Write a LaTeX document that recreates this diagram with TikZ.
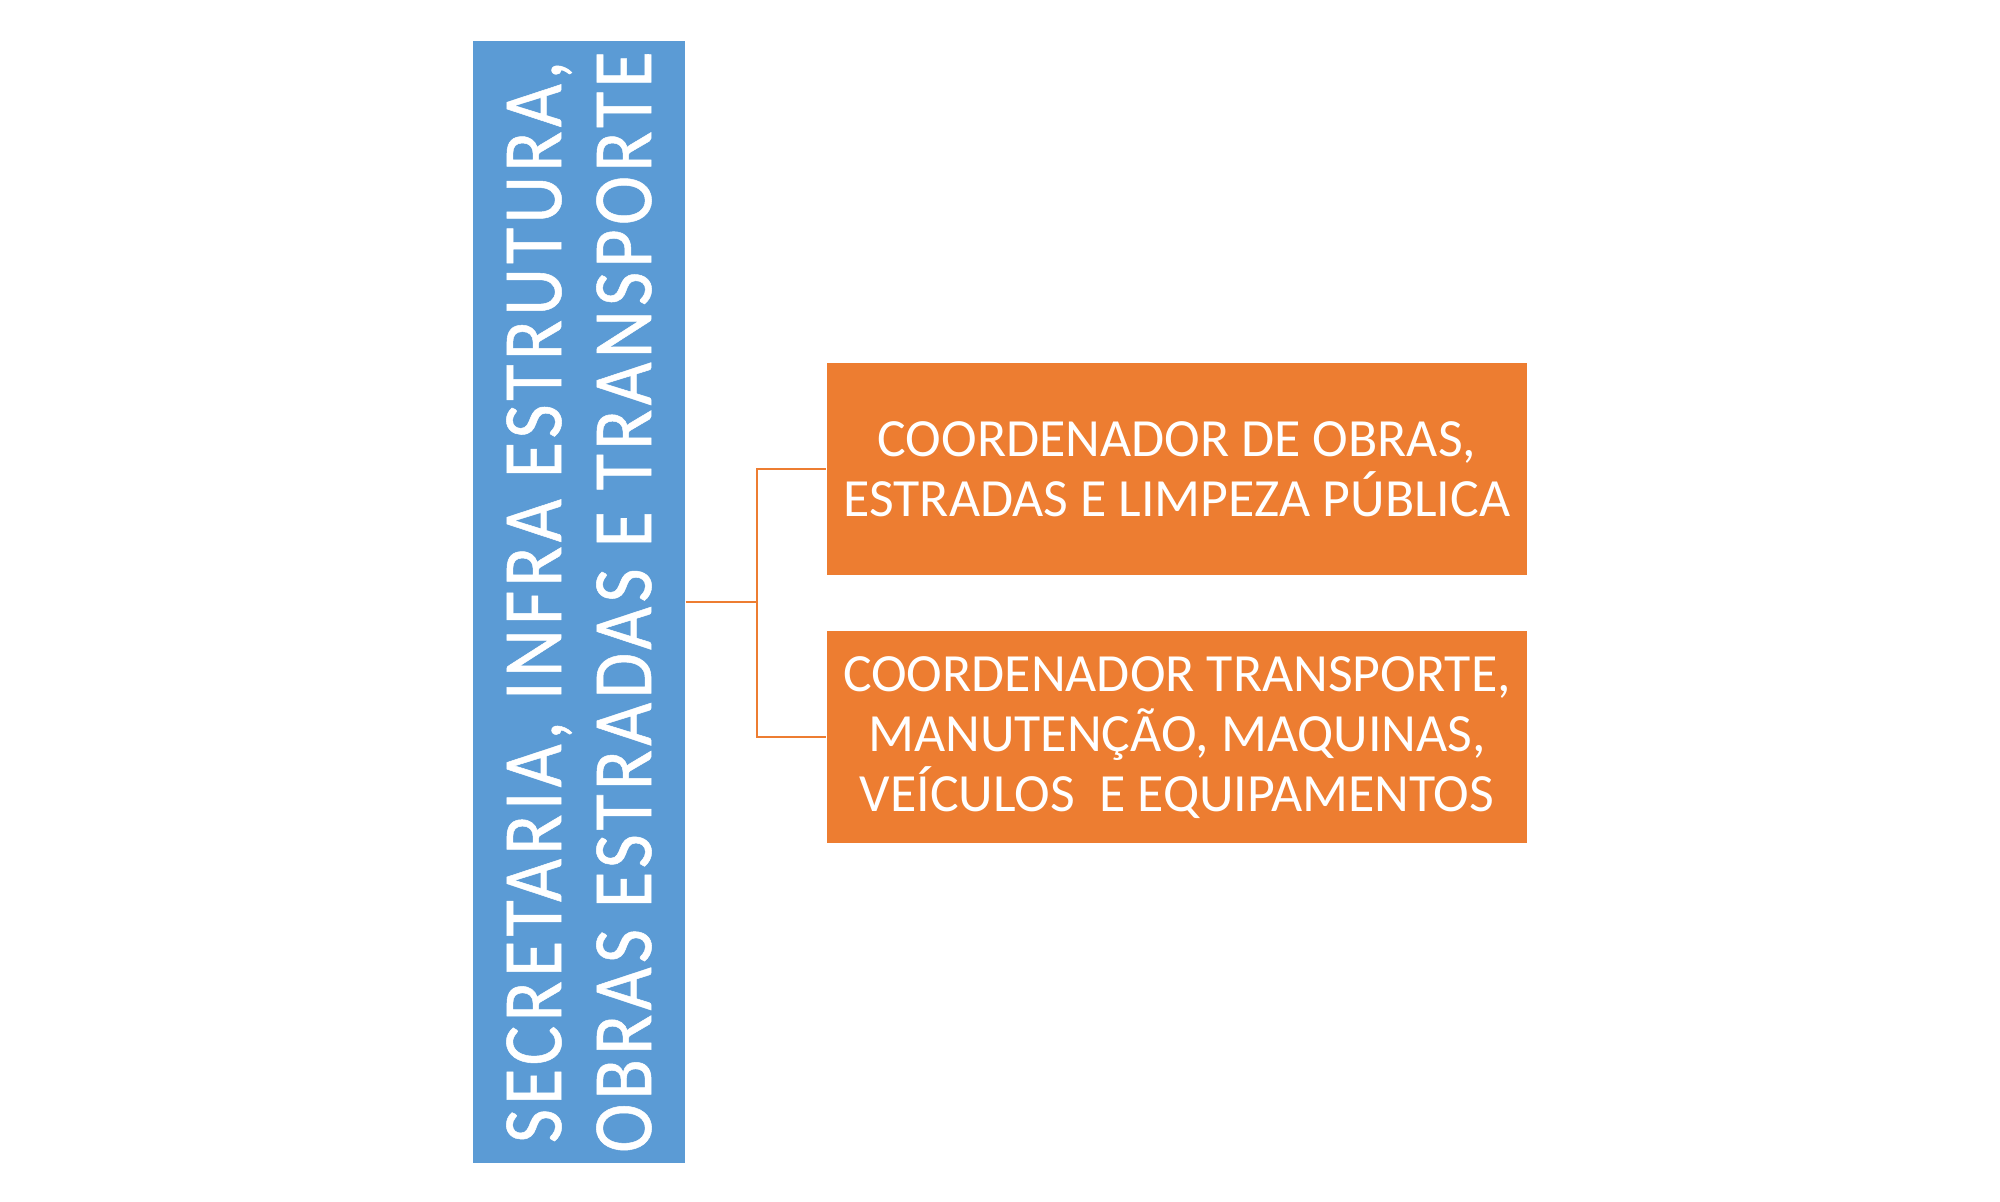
\documentclass[tikz,border=0pt]{standalone}
\usepackage{fontspec}
\setmainfont{Carlito}
\newfontfamily\secfont[FakeStretch=0.88,LetterSpace=5,FakeBold=0.6]{Carlito}
\usetikzlibrary{positioning}
\definecolor{secblue}{HTML}{5B9BD5}
\definecolor{coorange}{HTML}{ED7D31}

\begin{document}
\begin{tikzpicture}[
  secbox/.style={fill=secblue, text=white, inner sep=0pt, minimum width=11.22cm,
    minimum height=2.12cm, rotate=90, align=center,
    font=\secfont\fontsize{24pt}{25.6pt}\selectfont},
  coordbox/.style={fill=coorange, text=white, inner sep=0pt, minimum width=7cm,
    minimum height=2.12cm, align=center, font=\fontsize{15.3pt}{17.1pt}\selectfont},
  conn/.style={draw=coorange, line width=0.02cm}]
  \useasboundingbox (0,0) rectangle (20,12.02);
  \node[secbox] (sec) at (5.79,6.00) {SECRETARIA, INFRA ESTRUTURA,\\OBRAS ESTRADAS E TRANSPORTE};
  \node[coordbox] (obras) at (11.77,7.33) {COORDENADOR DE OBRAS,\\ESTRADAS E LIMPEZA PÚBLICA};
  \node[coordbox, below=0.55cm of obras] (transp) {COORDENADOR TRANSPORTE,\\MANUTENÇÃO, MAQUINAS,\\VEÍCULOS\ \ E EQUIPAMENTOS};

  \draw[conn] (sec.south) -- ++(0.71,0) coordinate (fork) |- (obras.west);
  \draw[conn] (fork) |- (transp.west);
\end{tikzpicture}
\end{document}
